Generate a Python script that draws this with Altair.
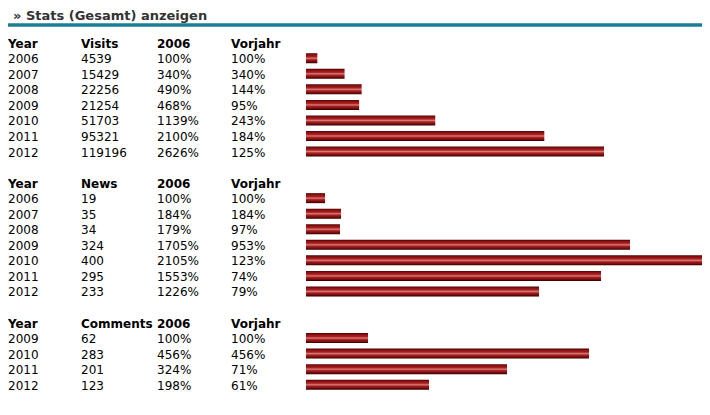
import altair as alt
import pandas as pd

title_text = ["» Stats (Gesamt) anzeigen"]

visits_years = [2006, 2007, 2008, 2009, 2010, 2011, 2012]
visits_vals = [4539, 15429, 22256, 21254, 51703, 95321, 119196]
visits_p06 = ["100%", "340%", "490%", "468%", "1139%", "2100%", "2626%"]
visits_pv = ["100%", "340%", "144%", "95%", "243%", "184%", "125%"]

news_years = [2006, 2007, 2008, 2009, 2010, 2011, 2012]
news_vals = [19, 35, 34, 324, 400, 295, 233]
news_p06 = ["100%", "184%", "179%", "1705%", "2105%", "1553%", "1226%"]
news_pv = ["100%", "184%", "97%", "953%", "123%", "74%", "79%"]

comments_years = [2009, 2010, 2011, 2012]
comments_vals = [62, 283, 201, 123]
comments_p06 = ["100%", "456%", "324%", "198%"]
comments_pv = ["100%", "456%", "71%", "61%"]

sections = [
    ("Visits", visits_years, visits_vals, visits_p06, visits_pv, 160000),
    ("News", news_years, news_vals, news_p06, news_pv, 400),
    ("Comments", comments_years, comments_vals, comments_p06, comments_pv, 400),
]

FONT = "DejaVu Sans"
COLX = [0, 73, 149, 223]

text_rows = []
bar_frames = []
line = 0
for name, yrs, vals, p06, pv, dmax in sections:
    text_rows.append({"line": line, "hdr": True, "c0": "Year", "c1": name, "c2": "2006", "c3": "Vorjahr"})
    line += 1
    recs = []
    for yv, v, a, b in zip(yrs, vals, p06, pv):
        text_rows.append({"line": line, "hdr": False, "c0": str(yv), "c1": str(v), "c2": a, "c3": b})
        recs.append({"line": line, "value": v, "section": name})
        line += 1
    bar_frames.append((pd.DataFrame(recs), dmax))
    line += 1

tdf = pd.DataFrame(text_rows)

yscale = alt.Scale(domain=[0, 22], range=[34.7, 34.7 + 16 * 22])
yenc = alt.Y("line:Q", scale=yscale, axis=None)

layers = []
base_t = alt.Chart(tdf)
for i, cx in enumerate(COLX):
    for hdr in (True, False):
        layers.append(
            base_t.transform_filter(alt.datum.hdr == hdr)
            .mark_text(align="left", baseline="alphabetic", font=FONT, fontSize=12,
                       fontWeight="bold" if hdr else "normal", color="#000000")
            .encode(x=alt.value(cx), y=yenc, text=f"c{i}:N")
        )

grad = alt.Gradient(
    gradient="linear",
    x1=0, x2=0, y1=0, y2=1,
    stops=[
        alt.GradientStop(color="#4a0000", offset=0),
        alt.GradientStop(color="#8a1010", offset=0.15),
        alt.GradientStop(color="#a82020", offset=0.35),
        alt.GradientStop(color="#d67a7a", offset=0.5),
        alt.GradientStop(color="#a82020", offset=0.65),
        alt.GradientStop(color="#7a0a0a", offset=0.85),
        alt.GradientStop(color="#2a0000", offset=1),
    ],
)

for bdf, dmax in bar_frames:
    layers.append(
        alt.Chart(bdf)
        .mark_bar(orient="horizontal", size=10, yOffset=-5, color=grad)
        .encode(
            x=alt.X("value:Q", scale=alt.Scale(domain=[0, dmax], range=[298, 698]), axis=None),
            y=yenc,
        )
    )

title_layer = (
    alt.Chart(pd.DataFrame({"t": title_text}))
    .mark_text(align="left", baseline="top", font=FONT, fontSize=13, fontWeight="bold", color="#333333")
    .encode(x=alt.value(5), y=alt.value(1.5), text="t:N")
)
rule_layer = (
    alt.Chart(pd.DataFrame({"t": title_text}))
    .mark_rule(color="#1a7f96", strokeWidth=3.5)
    .encode(x=alt.value(0), x2=alt.value(695), y=alt.value(17))
)

chart = (
    alt.layer(title_layer, rule_layer, *layers)
    .resolve_scale(x="independent")
    .properties(width=694, height=395, padding=0, background="#ffffff",
                autosize=alt.AutoSizeParams(type="none"))
    .configure_view(stroke=None)
)

chart.save("out.html", embed_options={"renderer": "svg", "actions": False})
